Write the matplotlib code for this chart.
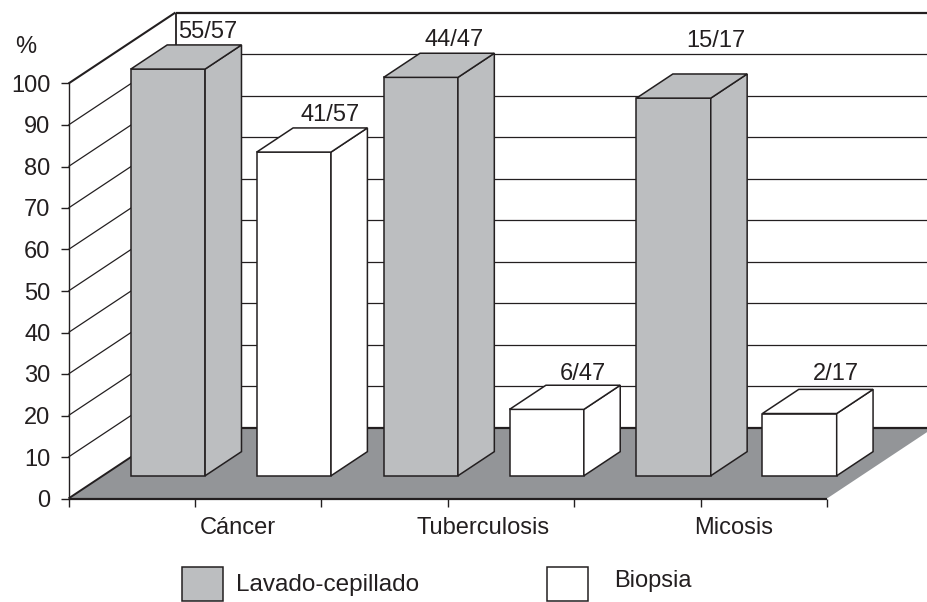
import matplotlib
matplotlib.use("Agg")
import matplotlib.pyplot as plt
from matplotlib.patches import Rectangle

plt.rcParams['font.family'] = ['Liberation Sans', 'DejaVu Sans']

categories = ["Cáncer", "Tuberculosis", "Micosis"]
lavado = [98, 96, 91]
biopsia = [78, 16, 15]
lavado_labels = ["55/57", "44/47", "15/17"]
biopsia_labels = ["41/57", "6/47", "2/17"]
y_ticks = list(range(0, 101, 10))
series_names = ["Lavado-cepillado", "Biopsia"]

W, H = 928, 602
INK = "#231f20"
GRAY = "#bcbec0"
FLOOR = "#939598"
L, R, B, T = 68.5, 827.0, 498.5, 83.5

fig = plt.figure(figsize=(W / 100, H / 100), dpi=100, facecolor="white")
ax = fig.add_axes([L / W, 1 - B / H, (R - L) / W, (B - T) / H])
ax.set_xlim(0, 3)
ax.set_ylim(0, 100)
ax.patch.set_visible(False)

ux = (R - L) / 3      # pixels per category
uy = (B - T) / 100    # pixels per percent
WALL_DX, WALL_DY = 107.0, 71.0


def proj(x, y, d):
    """Oblique projection: d is depth in 0..1 from the front to the back wall."""
    return x + d * WALL_DX / ux, y + d * WALL_DY / uy


def poly(pts, fc, z, lw=1.0, ec=INK):
    xs, ys = zip(*pts)
    ax.fill(xs, ys, facecolor=fc, edgecolor=ec, linewidth=lw, zorder=z,
            clip_on=False, joinstyle="miter")


def line(a, b, z, lw=1.0):
    ax.plot([a[0], b[0]], [a[1], b[1]], color=INK, lw=lw, zorder=z,
            clip_on=False, solid_capstyle="butt")


# floor
poly([proj(0, 0, 0), proj(3, 0, 0), proj(3, 0, 1), proj(0, 0, 1)], FLOOR, 1, lw=0, ec="none")
line(proj(0, 0, 0), proj(3, 0, 0), 2, 1.6)
line(proj(0, 0, 0), proj(0, 0, 1), 2, 1.4)
line(proj(0, 0, 1), proj(3, 0, 1), 2, 1.6)

# walls and gridlines
for v in y_ticks[1:]:
    top = v == 100
    line(proj(0, v, 0), proj(0, v, 1), 2, 1.5 if top else 0.9)
    line(proj(0, v, 1), proj(3, v, 1), 2, 1.6 if top else 0.9)
line(proj(0, 0, 1), proj(0, 100, 1), 2, 1.3)

# bars
BAR_W = 74.3 / ux
OFFSETS = (0.111, 0.609)
D0, D1 = 0.32, 0.66
LABEL_SHIFT = {0: (3, 7), 1: (0, 7), 2: (-3, 7), 3: (0, 5), 4: (6, 27), 5: (0, 9)}


def bar(x, v, fc, z, label, shift):
    x1 = x + BAR_W
    poly([proj(x, 0, D0), proj(x1, 0, D0), proj(x1, v, D0), proj(x, v, D0)], fc, z, 1.1)
    poly([proj(x1, 0, D0), proj(x1, 0, D1), proj(x1, v, D1), proj(x1, v, D0)], fc, z, 1.1)
    poly([proj(x, v, D0), proj(x1, v, D0), proj(x1, v, D1), proj(x, v, D1)], fc, z, 1.1)
    ax.annotate(label, xy=proj(x + BAR_W / 2, v, D1), xytext=shift, textcoords="offset pixels",
                ha="center", va="baseline", fontsize=17, color=INK, zorder=20,
                annotation_clip=False)


for i in range(len(categories)):
    bar(i + OFFSETS[0], lavado[i], GRAY, 5 + 2 * i, lavado_labels[i], LABEL_SHIFT[2 * i])
    bar(i + OFFSETS[1], biopsia[i], "white", 6 + 2 * i, biopsia_labels[i], LABEL_SHIFT[2 * i + 1])

# axes
for s in ("top", "right"):
    ax.spines[s].set_visible(False)
ax.spines["left"].set_color(INK)
ax.spines["left"].set_linewidth(1.0)
ax.spines["left"].set_zorder(3)
ax.spines["bottom"].set_visible(False)
ax.set_yticks(y_ticks)
ax.set_yticklabels([str(v) for v in y_ticks], fontsize=17, color=INK)
ax.set_xticks([k * 0.5 for k in range(7)])
ax.set_xticklabels([""] * 7)
ax.tick_params(axis="both", direction="out", length=6, width=1.0, color=INK)
ax.tick_params(axis="y", pad=7)

# category labels sit under the bars' centres
for i, (name, pos) in enumerate(zip(categories, (0.67, 1.64, 2.63))):
    ax.annotate(name, xy=(pos, 0), xytext=(0, -35), textcoords="offset pixels",
                ha="center", va="baseline", fontsize=17, color=INK, annotation_clip=False)

# pixel-space annotations
px = matplotlib.transforms.Affine2D().scale(1 / W, -1 / H).translate(0, 1) + fig.transFigure
fig.text(15, 53, "%", transform=px, fontsize=17, color=INK, ha="left", va="baseline")
fig.add_artist(Rectangle((181.7, 566.7), 41.5, 34, transform=px, fc=GRAY, ec=INK, lw=1.1))
fig.add_artist(Rectangle((547, 566.7), 41.5, 34, transform=px, fc="white", ec=INK, lw=1.1))
fig.text(236, 591, series_names[0], transform=px, fontsize=17.5, color=INK, ha="left", va="baseline")
fig.text(614, 587, series_names[1], transform=px, fontsize=17, color=INK, ha="left", va="baseline")

fig.savefig("out.png", dpi=100, facecolor="white")
